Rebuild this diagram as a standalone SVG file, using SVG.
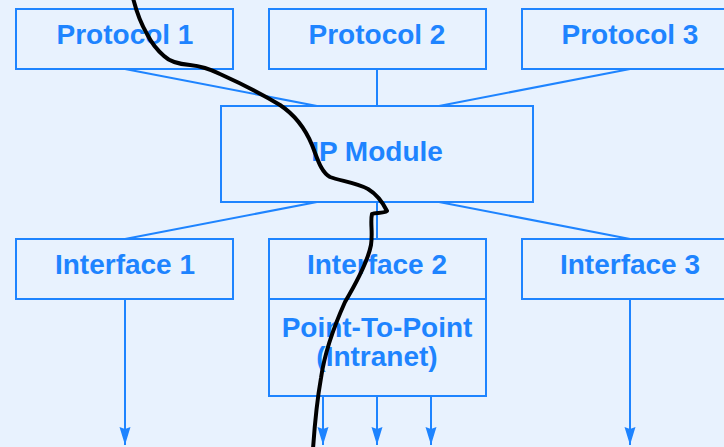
<svg xmlns="http://www.w3.org/2000/svg" width="724" height="447" viewBox="0 0 724 447">
<defs>
<style>
.box{fill:none;stroke:#1E84FF;stroke-width:2}
.ln{fill:none;stroke:#1E84FF;stroke-width:2}
.t{font-family:"Liberation Sans",Arial,sans-serif;font-weight:bold;font-size:28px;fill:#1E84FF;text-anchor:middle}
</style>
<marker id="ah" viewBox="0 0 18 12" refX="18" refY="6" markerWidth="18" markerHeight="12" markerUnits="userSpaceOnUse" orient="auto">
<path d="M18,6 L0,0.5 L2,6 L0,11.5 Z" fill="#1E84FF"/>
</marker>
</defs>
<rect width="724" height="447" fill="#E8F2FE"/>
<g id="connectors">
<line class="ln" x1="125" y1="69" x2="317" y2="106"/>
<line class="ln" x1="377" y1="69" x2="377" y2="106"/>
<line class="ln" x1="630" y1="69" x2="439" y2="106"/>
<line class="ln" x1="317" y1="202" x2="125" y2="239"/>
<line class="ln" x1="377" y1="202" x2="377" y2="239"/>
<line class="ln" x1="439" y1="202" x2="630" y2="239"/>
<line class="ln" x1="125" y1="299" x2="125" y2="445" marker-end="url(#ah)"/>
<line class="ln" x1="323" y1="396" x2="323" y2="445" marker-end="url(#ah)"/>
<line class="ln" x1="377" y1="396" x2="377" y2="445" marker-end="url(#ah)"/>
<line class="ln" x1="431" y1="396" x2="431" y2="445" marker-end="url(#ah)"/>
<line class="ln" x1="630" y1="299" x2="630" y2="445" marker-end="url(#ah)"/>
</g>
<g id="protocol1"><rect class="box" x="16" y="9" width="217" height="60"/><text class="t" x="125" y="44">Protocol 1</text></g>
<g id="protocol2"><rect class="box" x="269" y="9" width="217" height="60"/><text class="t" x="377" y="44">Protocol 2</text></g>
<g id="protocol3"><rect class="box" x="522" y="9" width="217" height="60"/><text class="t" x="630" y="44">Protocol 3</text></g>
<g id="ipmodule"><rect class="box" x="221" y="106" width="312" height="96"/><text class="t" x="377" y="161">IP Module</text></g>
<g id="interface1"><rect class="box" x="16" y="239" width="217" height="60"/><text class="t" x="125" y="274">Interface 1</text></g>
<g id="interface2"><rect class="box" x="269" y="239" width="217" height="60"/><text class="t" x="377" y="274">Interface 2</text></g>
<g id="pointtopoint"><rect class="box" x="269" y="299" width="217" height="97"/><text class="t" x="377" y="337">Point-To-Point</text><text class="t" x="377" y="366">(Intranet)</text></g>
<g id="interface3"><rect class="box" x="522" y="239" width="217" height="60"/><text class="t" x="630" y="274">Interface 3</text></g>
<path d="M133,-2 C136,10 140,22 147,34 C151,42 156,49 164,56 C170,62 178,64 190,65 C200,66 210,69 220,74 C240,83 260,93 280,105 C295,115 305,128 312,145 C318,160 321,172 330,177 C340,181 355,182 368,189 C378,195 383,203 387,211 C383,214 375,212 372,214 C370,222 373,232 371,245 C368,260 358,280 345,302 C336,322 325,350 321,378 C318,395 315,420 313,449" fill="none" stroke="#000" stroke-width="4" stroke-linecap="round" stroke-linejoin="round"/>
</svg>
